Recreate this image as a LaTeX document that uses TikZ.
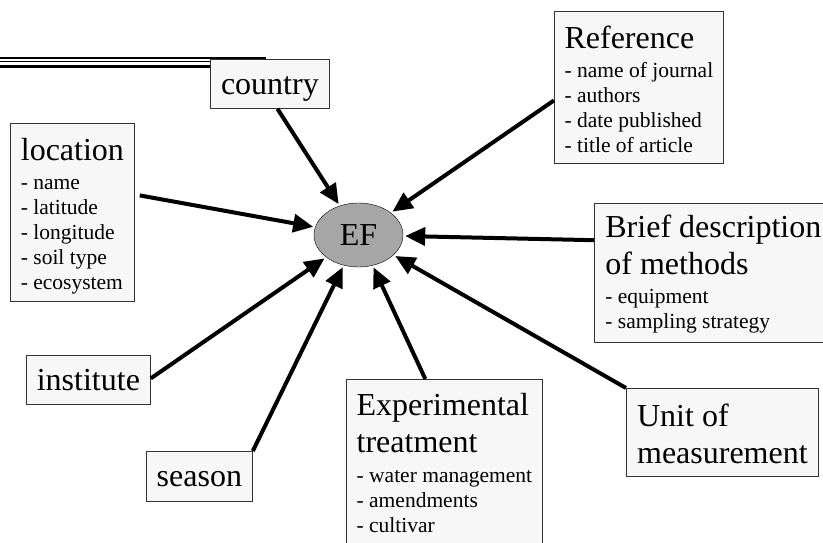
\documentclass[tikz,border=0pt]{standalone}
\usepackage{fontspec}
\setmainfont{Liberation Serif}
\usetikzlibrary{arrows.meta,calc,shapes.geometric}
\newcommand{\hdf}{\fontsize{32}{37}\selectfont}
\newcommand{\itf}{\fontsize{21.5}{25}\selectfont}
\newcommand{\hstr}{\rule[-10pt]{0pt}{37pt}}
\newcommand{\istr}{\rule[-6pt]{0pt}{25pt}}
\begin{document}
\begin{tikzpicture}[x=1pt,y=-1pt,
  box/.style={draw=black!80,line width=0.8pt,fill=black!3,anchor=north west,inner xsep=6pt,inner ysep=0pt,align=left,font=\hdf},
  single/.style={box,text height=23pt,text depth=2pt},
  multi/.style={box,font={\itf\baselineskip=0pt\lineskip=0pt\lineskiplimit=0pt}},
  conn/.style={line width=4pt,-{Triangle[length=20pt,width=18pt]},shorten >=2pt}]
\useasboundingbox (0,0) rectangle (823,542);
\clip (0,0) rectangle (823,542);
% title rule
\draw[line width=2.7pt] (0,58) -- (266,58);
\draw[line width=1.3pt] (0,61.7) -- (266,61.7);
\draw[line width=2.7pt] (0,66.3) -- (266,66.3);
% EF
\node[ellipse,draw,fill=black!35,minimum width=89pt,minimum height=64pt,inner sep=0pt,font=\hdf] (ef) at (358.5,235) {EF};
% boxes
\node[single,minimum width=119pt,minimum height=49pt] (country) at (210,59) {country};
\node[multi,minimum width=124pt,minimum height=178pt] (location) at (10,123)
  {\hdf\rule[-10pt]{0pt}{41pt}location\\\istr - name\\\istr - latitude\\\istr - longitude\\\istr - soil type\\\istr - ecosystem};
\node[multi,minimum width=169pt,minimum height=152pt] (reference) at (554,11)
  {\hdf\rule[-10pt]{0pt}{42pt}Reference\\\istr - name of journal\\\istr - authors\\\istr - date published\\\istr - title of article};
\node[multi,minimum height=139pt,inner xsep=11pt] (brief) at (594,203)
  {\hdf\hstr Brief description\\\hdf\hstr of methods\\\istr - equipment\\\istr - sampling strategy};
\node[single,minimum width=124pt,minimum height=49pt] (institute) at (26,355) {institute};
\node[single,minimum width=106pt,minimum height=50pt] (season) at (146,451) {season};
\node[multi,minimum width=196pt,inner ysep=9pt] (experimental) at (346,379)
  {\hdf\hstr Experimental\\\hdf\rule[-11pt]{0pt}{38pt}treatment\\\istr - water management\\\istr - amendments\\\istr - cultivar};
\node[multi,minimum width=192pt,minimum height=88pt] (unit) at (626,388)
  {\hdf\rule[-10pt]{0pt}{45pt}Unit of\\\hdf\hstr measurement};
% connectors
\draw[conn] ($(country.south west)!0.563!(country.south east)$) -- (ef);
\draw[conn] ($(reference.north west)!0.585!(reference.south west)$) -- (ef);
\draw[conn,shorten <=5pt] ($(location.north east)!0.40!(location.south east)$) -- (ef);
\draw[conn] ($(brief.north west)!0.266!(brief.south west)$) -- (ef);
\draw[conn] ($(institute.north east)!0.47!(institute.south east)$) -- (ef);
\draw[conn] (season.north east) -- (ef);
\draw[conn] ($(experimental.north west)!0.403!(experimental.north east)$) -- (ef);
\draw[conn] (unit.north west) -- (ef);
\end{tikzpicture}
\end{document}
